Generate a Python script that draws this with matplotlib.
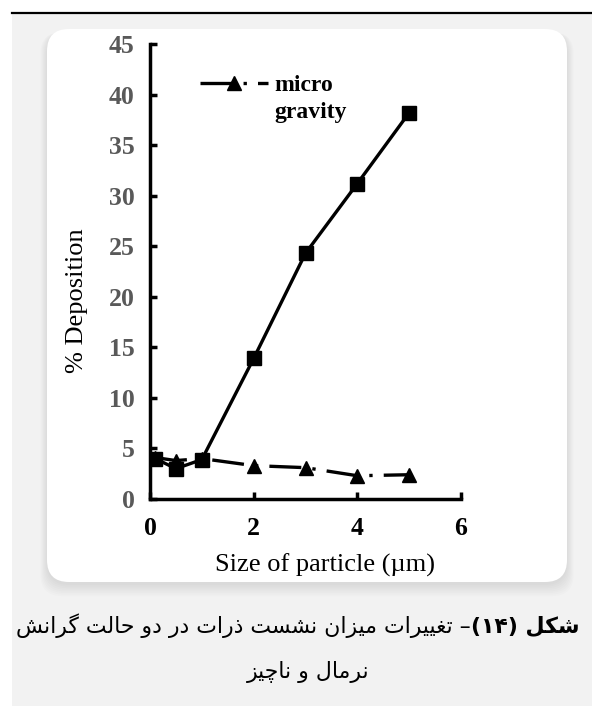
import matplotlib
matplotlib.use('Agg')
import matplotlib.pyplot as plt
from matplotlib.patches import FancyBboxPatch, Rectangle
from matplotlib.lines import Line2D

plt.rcParams['lines.scale_dashes'] = False

# ---------------- data ----------------
sizes_normal = [0.1, 0.5, 1, 2, 3, 4, 5]
dep_normal = [4.0, 3.0, 3.9, 13.9, 24.3, 31.2, 38.2]
sizes_micro = [0.1, 0.5, 1, 2, 3, 4, 5]
dep_micro = [4.1, 3.8, 4.0, 3.3, 3.1, 2.3, 2.4]
legend_lines = ['micro', 'gravity']
x_ticks = [0, 2, 4, 6]
y_ticks = [0, 5, 10, 15, 20, 25, 30, 35, 40, 45]
x_label = 'Size of particle (µm)'
y_label = '% Deposition'
caption_bold = 'شکل (۱۴)'
caption_rest = '– تغییرات میزان نشست ذرات در دو حالت گرانش'
caption_line2 = 'نرمال و ناچیز'

# ---------------- simple Persian shaping (visual order) ----------------
FORMS = {  # isolated, final, initial, medial
    'ا': ('\uFE8D', '\uFE8E', None, None),
    'ت': ('\uFE95', '\uFE96', '\uFE97', '\uFE98'),
    'ح': ('\uFEA1', '\uFEA2', '\uFEA3', '\uFEA4'),
    'د': ('\uFEA9', '\uFEAA', None, None),
    'ذ': ('\uFEAB', '\uFEAC', None, None),
    'ر': ('\uFEAD', '\uFEAE', None, None),
    'ز': ('\uFEAF', '\uFEB0', None, None),
    'س': ('\uFEB1', '\uFEB2', '\uFEB3', '\uFEB4'),
    'ش': ('\uFEB5', '\uFEB6', '\uFEB7', '\uFEB8'),
    'غ': ('\uFECD', '\uFECE', '\uFECF', '\uFED0'),
    'ل': ('\uFEDD', '\uFEDE', '\uFEDF', '\uFEE0'),
    'م': ('\uFEE1', '\uFEE2', '\uFEE3', '\uFEE4'),
    'ن': ('\uFEE5', '\uFEE6', '\uFEE7', '\uFEE8'),
    'و': ('\uFEED', '\uFEEE', None, None),
    'ک': ('\uFB8E', '\uFB8F', '\uFB90', '\uFB91'),
    'گ': ('\uFB92', '\uFB93', '\uFB94', '\uFB95'),
    'چ': ('\uFB7A', '\uFB7B', '\uFB7C', '\uFB7D'),
    'ی': ('\uFBFC', '\uFBFD', '\uFBFE', '\uFBFF'),
}


def dual(c):
    return c in FORMS and FORMS[c][2] is not None


def shape_word(w):
    out = []
    for i, c in enumerate(w):
        if c not in FORMS:
            out.append(c)
            continue
        prev = w[i - 1] if i > 0 else ''
        nxt = w[i + 1] if i + 1 < len(w) else ''
        jp = dual(prev)
        jn = dual(c) and nxt in FORMS
        iso, fin, ini, med = FORMS[c]
        if jp and jn:
            out.append(med)
        elif jp:
            out.append(fin)
        elif jn:
            out.append(ini)
        else:
            out.append(iso)
    return ''.join(out)


def visual(text):
    toks = []
    for t in text.split(' '):
        if any(c in FORMS for c in t):
            toks.append(shape_word(t)[::-1])
        else:
            toks.append(t)
    return ' '.join(toks[::-1])


# ---------------- figure ----------------
W, H = 5.92, 7.06
PW, PH = W * 100, H * 100
fig = plt.figure(figsize=(W, H), dpi=100)
fig.patch.set_facecolor('white')
T = fig.dpi_scale_trans


def fx(x):
    return x / PW


def fy(y):
    return 1 - y / PH


# gray page background
fig.add_artist(Rectangle((0.12, 0), W - 0.12, H - 0.125, transform=T,
                         fc='#f2f2f2', ec='none', zorder=-20))
# top rule
fig.add_artist(Line2D([fx(12), 1], [fy(12.5), fy(12.5)], transform=fig.transFigure,
                      color='black', lw=1.6, zorder=-5))

# panel shadow + panel
pl, pt_, pr, pb = 47, 29, 567, 582
for i in range(8):
    e = i * 1.6
    fig.add_artist(FancyBboxPatch(((pl - e * 0.6) / 100, H - (pb + e + 3) / 100),
                                  (pr - pl + 1.2 * e) / 100, (pb - pt_ + e) / 100,
                                  boxstyle='round,pad=0,rounding_size=0.22',
                                  transform=T, fc='#000000', alpha=0.012, ec='none',
                                  zorder=-15))
fig.add_artist(FancyBboxPatch((pl / 100, H - pb / 100), (pr - pl) / 100, (pb - pt_) / 100,
                              boxstyle='round,pad=0,rounding_size=0.22',
                              transform=T, fc='white', ec='none', zorder=-10))

# axes
ax_l, ax_r, ax_t, ax_b = 150, 461, 44, 499
ax = fig.add_axes([fx(ax_l), fy(ax_b), (ax_r - ax_l) / PW, (ax_b - ax_t) / PH])
ax.patch.set_alpha(0)

serif = ['Liberation Serif', 'DejaVu Serif']

ax.plot(sizes_micro, dep_micro, color='black', lw=2.4, marker='^', markersize=10.5,
        dashes=(23, 8, 2.4, 8), label=legend_lines[0], zorder=3)
ax.plot(sizes_normal, dep_normal, color='black', lw=2.4, marker='s', markersize=10,
        zorder=4)

ax.set_xlim(0, 6)
ax.set_ylim(0, 45)
ax.set_xticks(x_ticks)
ax.set_yticks(y_ticks)
for s in ['top', 'right']:
    ax.spines[s].set_visible(False)
for s in ['left', 'bottom']:
    ax.spines[s].set_linewidth(2.5)
ax.tick_params(direction='in', length=5, width=2.5)
ax.tick_params(axis='y', pad=11)
ax.tick_params(axis='x', pad=13)
for lab in ax.get_yticklabels():
    lab.set_fontfamily(serif)
    lab.set_fontweight('bold')
    lab.set_fontsize(18.5)
    lab.set_color('#595959')
for lab in ax.get_xticklabels():
    lab.set_fontfamily(serif)
    lab.set_fontweight('bold')
    lab.set_fontsize(18.5)
    lab.set_color('black')

leg = ax.legend(loc='center left', bbox_to_anchor=(fx(200), fy(85)),
                bbox_transform=fig.transFigure, frameon=False,
                prop={'family': serif, 'weight': 'bold', 'size': 17},
                handlelength=2.9, handletextpad=0.25, borderpad=0, borderaxespad=0)

# axis labels
fig.text(fx(325), fy(572), x_label, ha='center', va='baseline', family=serif, fontsize=19)
fig.text(fx(83), fy(301), y_label, ha='center', va='baseline', rotation=90,
         rotation_mode='anchor', family=serif, fontsize=19)

# caption
ar = ['DejaVu Sans']
tb = fig.text(fx(580), fy(633), visual(caption_bold), ha='right',
              va='baseline', family=ar, fontweight='bold', fontsize=15)
tr = fig.text(0, fy(633), visual(caption_rest), ha='right',
              va='baseline', family=ar, fontsize=15)
t2 = fig.text(fx(308), fy(678), visual(caption_line2), ha='center',
              va='baseline', family=ar, fontsize=15)

r = fig.canvas.get_renderer()
wb = tb.get_window_extent(r).width
wr = tr.get_window_extent(r).width
target = 580 - 12
scale = target / (wb + wr + 1)
fs = 15 * scale
for t in (tb, tr, t2):
    t.set_fontsize(fs)
bb = tb.get_window_extent(r)
tr.set_x((bb.x0 - 1) / PW)

# second legend line, aligned with the legend text
fig.canvas.draw()
lt = leg.get_texts()[0]
lbb = lt.get_window_extent(r)
fig.text(lbb.x0 / PW, fy(118), legend_lines[1], ha='left', va='baseline',
         family=serif, fontweight='bold', fontsize=17)

fig.savefig('out.png', dpi=100)
